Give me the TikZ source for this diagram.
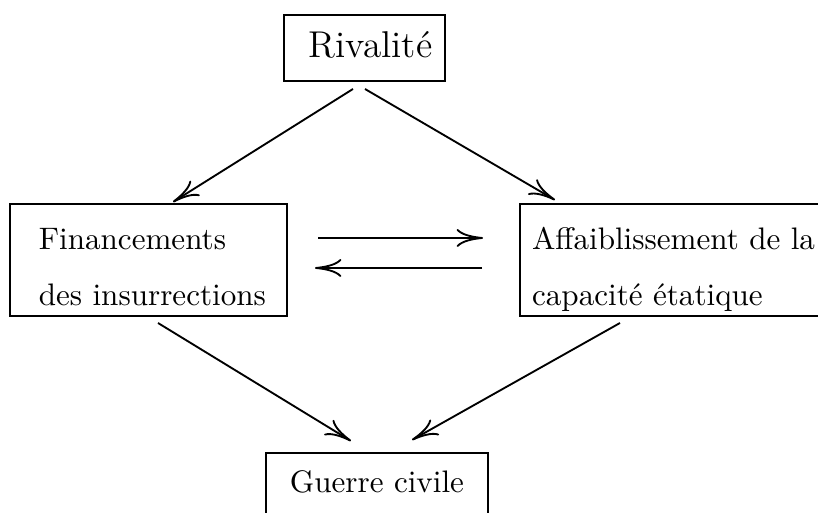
\documentclass[tikz,border=0pt]{standalone}
\usetikzlibrary{arrows.meta}

\tikzset{
  >={To[length=8.5pt,width=5.8pt]},
  box/.style={draw, inner sep=0pt, outer sep=0pt},
  two lines/.style={box, align=left, minimum height=36pt, inner xsep=2pt}
}

\begin{document}
\begin{tikzpicture}[x=0.3215pt,y=-0.3215pt,line width=0.6pt]
	%% frame of the picture
	\useasboundingbox (0,0) rectangle (818,513);
	\clip (0,0) rectangle (818,513);

	%% the four boxes
	\node[box, font=\large, text height=10.15pt, text depth=4.35pt,
	      inner xsep=4.1pt, inner ysep=3.35pt] (riv) at (364.5,48) {~Rivalité};
	\node[two lines, text width=85.1pt, minimum width=89.1pt] (fin) at (148.5,260)
	  {\rule{0pt}{14.5pt}\hspace*{7.3pt}Financements\\[6pt]
	   \hspace*{7.3pt}des insurrections\rule[-3.5pt]{0pt}{0pt}};
	\node[two lines, text width=96pt, anchor=west] (aff) at (520,260)
	  {\rule{0pt}{14.5pt}\hspace*{1.9pt}Affaiblissement de la\\[6pt]
	   \hspace*{1.9pt}capacité étatique\rule[-3.5pt]{0pt}{0pt}};
	\node[box, text height=8.4pt, text depth=3.6pt,
	      inner xsep=7.7pt, inner ysep=4.5pt] (gue) at (377,485.5) {Guerre civile};

	%% ends of the arrows
	\coordinate (riv l) at (353,89);
	\coordinate (riv r) at (365,89);
	\coordinate (fin t) at (173,202);
	\coordinate (aff t) at (555,200);
	\coordinate (fin b) at (158,323);
	\coordinate (aff b) at (620,323);
	\coordinate (gue l) at (351,441);
	\coordinate (gue r) at (412,440);
	\coordinate (mid a) at (318,238);
	\coordinate (mid b) at (483,238);
	\coordinate (mid c) at (482,268);
	\coordinate (mid d) at (315,268);

	\draw[->] (riv l) -- (fin t);
	\draw[->] (riv r) -- (aff t);
	\draw[->] (mid a) -- (mid b);
	\draw[->] (mid c) -- (mid d);
	\draw[->] (fin b) -- (gue l);
	\draw[->] (aff b) -- (gue r);
\end{tikzpicture}
\end{document}
